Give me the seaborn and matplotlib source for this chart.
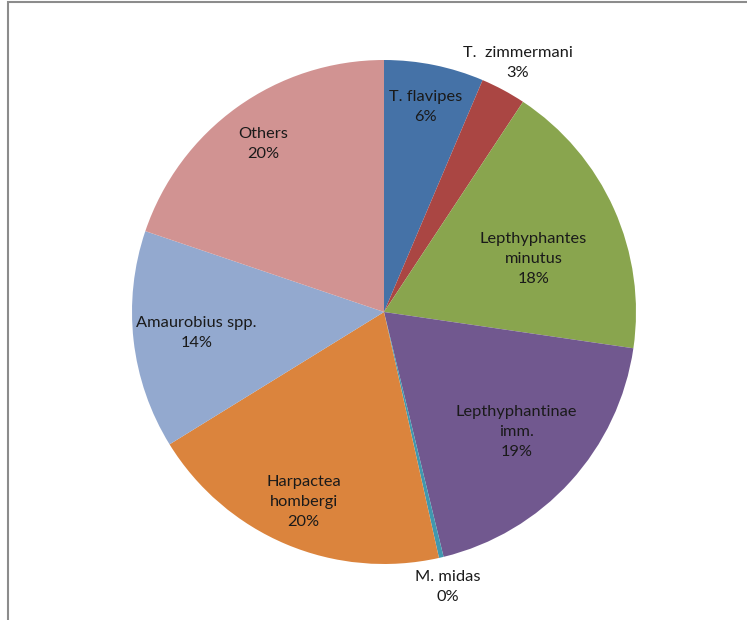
import numpy as np
import matplotlib
matplotlib.use("Agg")
import matplotlib.pyplot as plt
import matplotlib.patches as mpatches
import seaborn as sns

# Slice data (clockwise from 12 o'clock)
species = ["T. flavipes", "T.  zimmermani", "Lepthyphantes\nminutus",
           "Lepthyphantinae\nimm.", "M. midas", "Harpactea\nhombergi",
           "Amaurobius spp.", "Others"]
shares = [6.4, 2.9, 18.0, 18.9, 0.3, 19.7, 14.0, 19.8]
colors = ["#4572A7", "#AA4643", "#89A54E", "#71588F",
          "#4198AF", "#DB843D", "#93A9CF", "#D19392"]

# label placement (fraction of radius, angle nudge in degrees)
label_dist = [0.83, 1.12, 0.63, 0.71, 1.12, 0.82, 0.75, 0.82]
label_nudge = [0, 0, -4.5, 0, 0, 0, 0, 0]

sns.set_theme(style="white")
plt.rcParams["font.family"] = ["Lato", "DejaVu Sans"]

W, H = 747, 620
fig = plt.figure(figsize=(W / 100, H / 100), dpi=100)
ax = fig.add_axes([0, 0, 1, 1])

cx, cy, r = 384, H - 312, 252
wedges, _ = ax.pie(shares, colors=sns.color_palette(colors), startangle=90,
                   counterclock=False, center=(cx, cy), radius=r,
                   wedgeprops=dict(linewidth=0), frame=True)
ax.set_xlim(0, W)
ax.set_ylim(0, H)
ax.axis("off")

for w, name, val, d, nudge in zip(wedges, species, shares, label_dist, label_nudge):
    ang = np.deg2rad((w.theta1 + w.theta2) / 2 + nudge)
    x = cx + d * r * np.cos(ang)
    y = cy + d * r * np.sin(ang)
    ax.text(x, y, f"{name}\n{round(val)}%", ha="center", va="center",
            multialignment="center", fontsize=11.8, color="#1a1a1a",
            linespacing=1.55)

# chart frame (only top and left edges fall inside the image)
fig.add_artist(mpatches.Rectangle((8 / W, -0.1), 1.2, 1 - 2 / H + 0.1,
                                  transform=fig.transFigure, fill=False,
                                  edgecolor="#8c8c8c", linewidth=1.5,
                                  clip_on=False))

fig.savefig("out.png", dpi=100)
